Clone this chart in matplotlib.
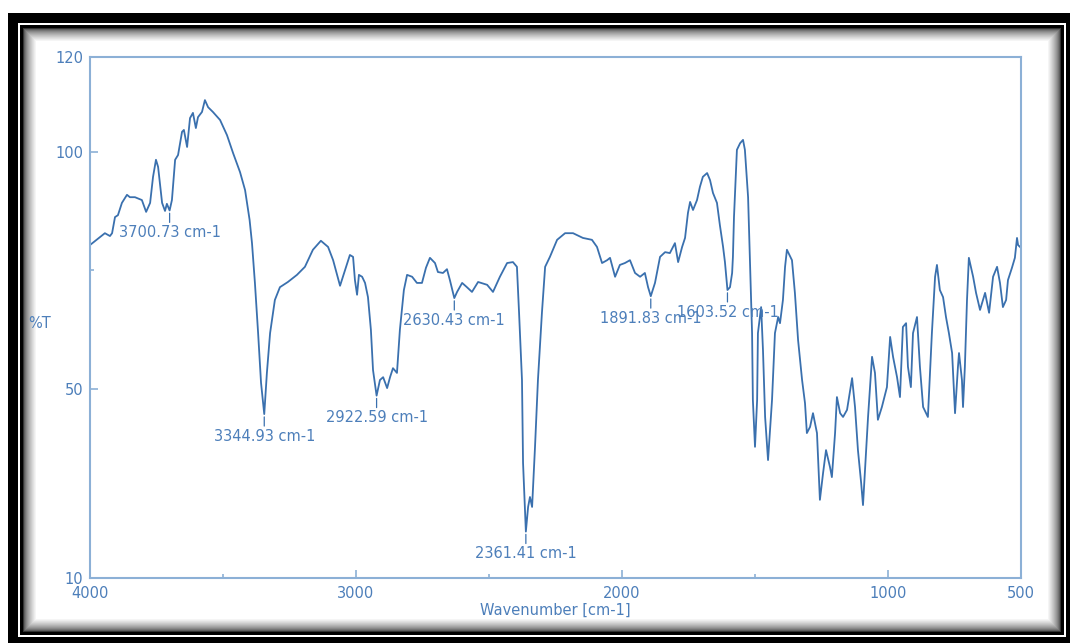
import numpy as np
import matplotlib.pyplot as plt
from matplotlib.patches import Rectangle

# FTIR spectrum, wavenumber [cm-1] vs %T
wavenumber = [4000, 3962, 3944, 3925, 3917, 3906, 3895, 3880, 3861, 3850,
              3831, 3805, 3789, 3774, 3763, 3752, 3744, 3729, 3718, 3711,
              3700.73, 3692, 3680, 3669, 3654, 3647, 3635, 3624, 3613, 3602,
              3594, 3579, 3568, 3556, 3538, 3511, 3485, 3462, 3436, 3417,
              3400, 3391, 3380, 3368, 3357, 3344.93, 3335, 3323, 3305, 3286,
              3256, 3222, 3192, 3162, 3132, 3105, 3086, 3060, 3041, 3023,
              3011, 3004, 2996, 2989, 2977, 2966, 2955, 2944, 2936, 2922.59,
              2910, 2898, 2883, 2872, 2861, 2846, 2835, 2820, 2808, 2789,
              2771, 2752, 2737, 2722, 2703, 2692, 2673, 2658, 2647, 2630.43,
              2620, 2601, 2583, 2564, 2541, 2507, 2485, 2459, 2432, 2410,
              2395, 2387, 2376, 2372, 2365, 2361.41, 2353, 2346, 2338, 2327,
              2316, 2301, 2289, 2271, 2244, 2214, 2184, 2147, 2113, 2094,
              2075, 2056, 2045, 2026, 2008, 1989, 1970, 1951, 1932, 1914,
              1902, 1891.83, 1876, 1857, 1838, 1820, 1801, 1789, 1774, 1763,
              1752, 1744, 1733, 1718, 1707, 1696, 1680, 1669, 1658, 1643,
              1632, 1620, 1613, 1603.52, 1594, 1586, 1583, 1579, 1568, 1556,
              1545, 1538, 1526, 1519, 1511, 1508, 1500, 1492, 1489, 1477,
              1470, 1462, 1451, 1436, 1425, 1413, 1406, 1395, 1387, 1380,
              1361, 1350, 1338, 1323, 1312, 1305, 1293, 1282, 1267, 1256,
              1244, 1233, 1218, 1211, 1199, 1192, 1180, 1169, 1154, 1135,
              1124, 1113, 1101, 1094, 1086, 1075, 1060, 1049, 1041, 1038,
              1023, 1004, 992, 981, 966, 955, 944, 932, 925, 914,
              906, 891, 880, 868, 850, 835, 823, 816, 805, 793,
              782, 771, 759, 748, 737, 733, 722, 718, 711, 703,
              696, 680, 669, 654, 635, 620, 605, 590, 579, 568,
              556, 549, 534, 523, 515, 511, 500]
transmittance = [80.3, 82.0, 82.8, 82.2, 82.8, 86.2, 86.6, 89.2, 90.9, 90.4,
                 90.4, 89.8, 87.3, 89.2, 94.7, 98.3, 96.8, 89.2, 87.5, 89.0,
                 87.6, 89.8, 98.3, 99.3, 104.2, 104.6, 101.0, 107.1, 108.2, 105.0,
                 107.3, 108.4, 110.9, 109.4, 108.4, 106.7, 103.5, 99.7, 95.7, 91.9,
                 85.6, 80.7, 72.3, 61.7, 51.2, 44.6, 53.3, 61.7, 68.7, 71.4,
                 72.5, 74.0, 75.7, 79.3, 81.2, 79.9, 77.1, 71.7, 75.0, 78.2,
                 77.8, 72.9, 69.8, 74.0, 73.6, 72.3, 69.3, 62.4, 53.9, 48.5,
                 51.8, 52.4, 50.1, 52.4, 54.3, 53.3, 62.4, 70.8, 74.0, 73.6,
                 72.3, 72.3, 75.5, 77.6, 76.5, 74.6, 74.4, 75.2, 72.9, 69.1,
                 70.4, 72.3, 71.4, 70.4, 72.5, 71.9, 70.4, 73.6, 76.5, 76.7,
                 75.7, 66.0, 51.8, 34.3, 25.0, 19.8, 25.0, 27.1, 25.0, 37.7,
                 51.8, 66.0, 75.7, 77.8, 81.4, 82.8, 82.8, 81.8, 81.4, 79.9,
                 76.5, 77.1, 77.6, 73.6, 76.1, 76.5, 77.1, 74.4, 73.6, 74.4,
                 71.4, 69.5, 72.3, 77.8, 78.8, 78.6, 80.7, 76.7, 79.9, 81.8,
                 87.1, 89.4, 87.7, 89.8, 92.6, 94.7, 95.5, 94.0, 91.3, 89.2,
                 84.5, 79.9, 76.7, 70.8, 71.4, 74.4, 77.8, 86.2, 100.4, 101.8,
                 102.5, 100.4, 90.4, 77.1, 61.7, 47.6, 37.7, 47.6, 61.7, 67.2,
                 58.1, 44.0, 34.9, 47.6, 61.7, 65.1, 63.8, 68.7, 75.7, 79.3,
                 77.1, 70.2, 60.2, 51.8, 46.9, 40.6, 41.9, 44.8, 40.6, 26.5,
                 32.2, 37.0, 33.4, 31.3, 40.6, 48.2, 44.8, 44.0, 45.5, 52.2,
                 46.1, 37.0, 30.1, 25.4, 33.4, 44.0, 56.7, 53.3, 46.1, 43.4,
                 46.1, 50.3, 60.9, 56.7, 52.4, 48.2, 63.0, 63.8, 54.6, 50.3,
                 61.7, 65.1, 54.6, 46.1, 44.0, 61.7, 73.6, 76.1, 70.8, 69.3,
                 65.1, 61.7, 57.5, 44.8, 54.6, 57.5, 51.8, 46.1, 54.6, 68.7,
                 77.6, 73.6, 70.2, 66.6, 70.2, 66.0, 73.6, 75.7, 72.3, 67.2,
                 68.7, 72.9, 75.5, 77.6, 81.8, 80.3, 79.7]

# picked peaks
peak_wn = [3700.73, 3344.93, 2922.59, 2630.43, 2361.41, 1891.83, 1603.52]
peak_t = [87.6, 44.6, 48.5, 69.1, 19.8, 69.5, 70.8]

x_ticks = [4000, 3000, 2000, 1000, 500]
x_minor = [3500, 2500, 1500]
y_ticks = [10, 50, 100, 120]
y_minor = [75]

line_c = '#3a70ae'
axis_c = '#8cb0d6'
text_c = '#4d7fba'
fs = 10.5

fig = plt.figure(figsize=(10.7, 6.43), dpi=100)

# frame around the picture: black border, white gap, inner black line, shadow
bg = fig.add_axes([0, 0, 1, 1])
bg.set_xlim(0, 1070)
bg.set_ylim(643, 0)
bg.axis('off')
bg.add_patch(Rectangle((8, 13), 1062, 630, color='black', lw=0))
bg.add_patch(Rectangle((18, 23), 1048, 614, color='white', lw=0))
bg.add_patch(Rectangle((20, 25), 1044, 610, color='black', lw=0))
n = 14
for i in range(n):
    g = 0.2 + 0.8 * (i / (n - 1)) ** 0.6
    bg.add_patch(Rectangle((23 + i, 28 + i), 1038 - 2 * i, 604 - 2 * i,
                           color=str(g), lw=0))

ax = fig.add_axes([90 / 1070, 65 / 643, 931 / 1070, 521 / 643])
ax.plot(wavenumber, transmittance, color=line_c, lw=1.3)
ax.set_xlim(4000, 500)
ax.set_ylim(10, 120)

ax.set_xticks(x_ticks)
ax.set_xticks(x_minor, minor=True)
ax.set_yticks(y_ticks)
ax.set_yticks(y_minor, minor=True)
ax.tick_params(which='both', direction='in', color=axis_c, labelcolor=text_c,
               labelsize=fs, width=1.2)
ax.tick_params(which='major', length=6)
ax.tick_params(which='minor', length=3)
ax.tick_params(axis='x', which='both', pad=6)
ax.tick_params(axis='y', which='both', pad=5)
for s in ax.spines.values():
    s.set_color(axis_c)
    s.set_linewidth(1.5)

ax.set_xlabel('Wavenumber [cm-1]', color=text_c, fontsize=fs, labelpad=1)
ax.text(-0.066, 0.489, '%T', transform=ax.transAxes, color=text_c,
        fontsize=fs, ha='left', va='center')

for wn, t in zip(peak_wn, peak_t):
    ax.annotate(f'{wn:.2f} cm-1', xy=(wn, t), xytext=(0, -16),
                textcoords='offset points', ha='center', va='center',
                color=text_c, fontsize=fs,
                arrowprops=dict(arrowstyle='-', color=line_c, lw=0.9,
                                shrinkA=0, shrinkB=2))

fig.savefig('out.png', dpi=100)
